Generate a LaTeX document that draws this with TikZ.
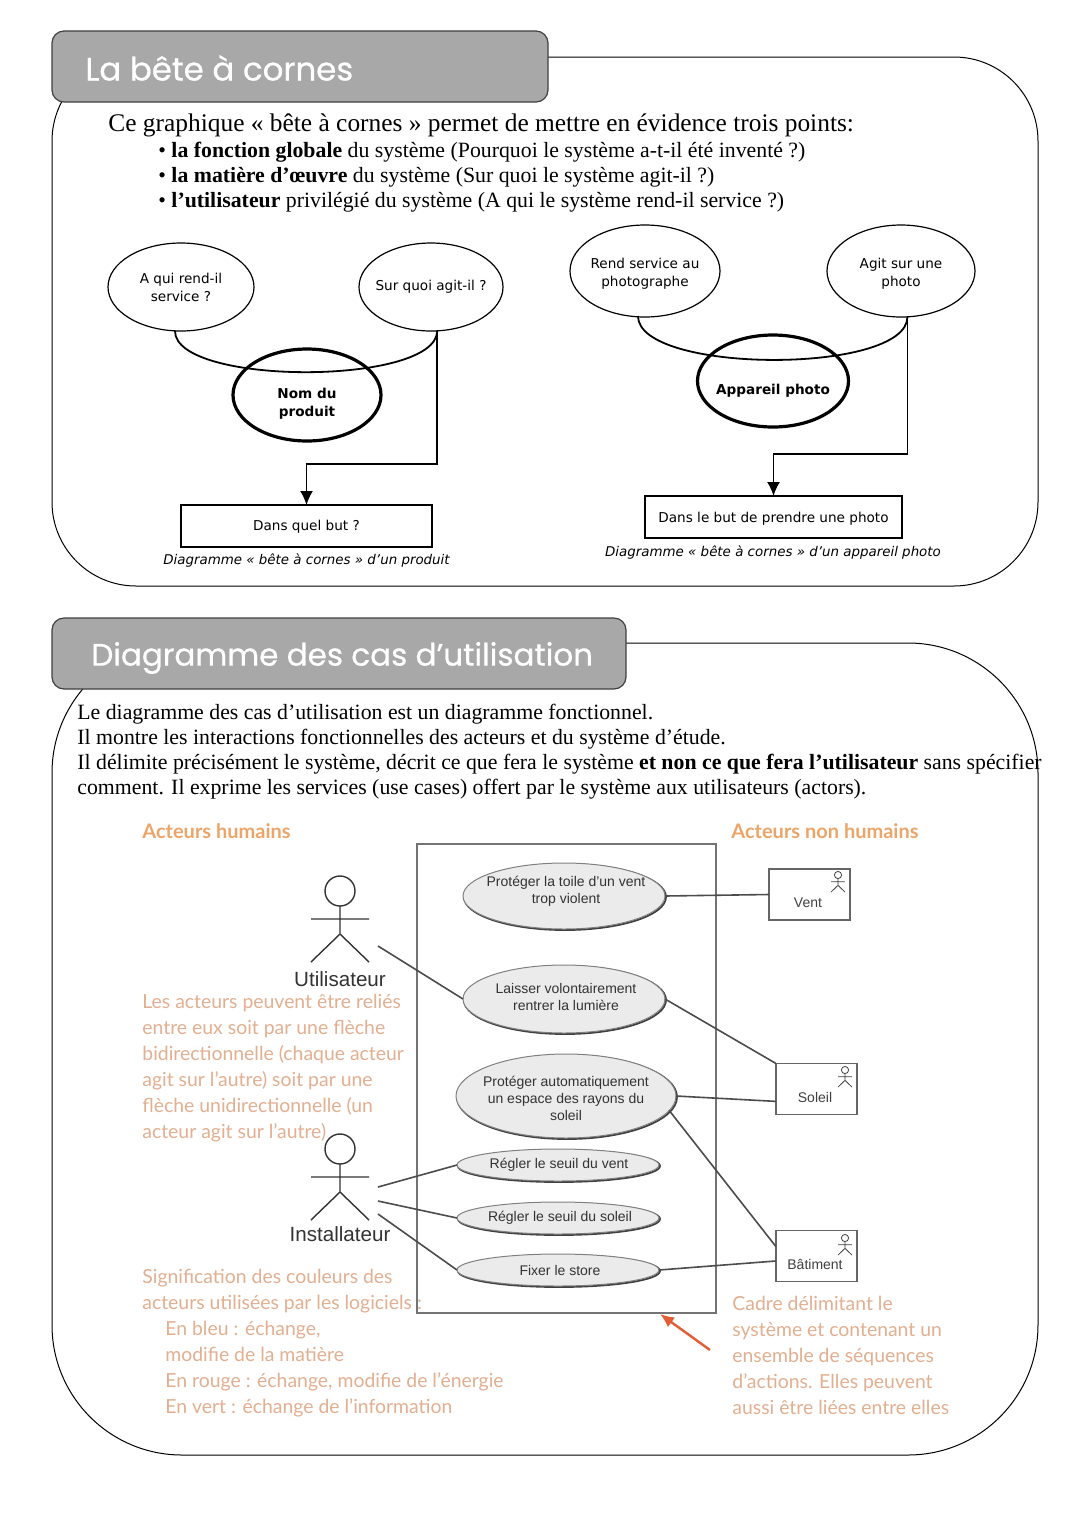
\documentclass[tikz,border=0pt]{standalone}
\usepackage{fontspec}
\setmainfont{Liberation Serif}
\newfontfamily\schemafont{DejaVu Sans}
\newfontfamily\umlfont{Liberation Sans}
\newfontfamily\notefont{Lato}
\newfontfamily\titlefont[FakeBold=0.6]{Poppins}
\usetikzlibrary{shapes.geometric,arrows.meta}
\definecolor{titlegray}{RGB}{168,168,168}
\definecolor{notecolor}{RGB}{226,175,145}
\definecolor{headcolor}{RGB}{236,165,105}
\definecolor{arrowcolor}{RGB}{226,92,52}
\tikzset{
  frame/.style={draw,line width=0.5pt,rounded corners=42pt},
  titlebox/.style={draw=black!75,fill=titlegray,line width=0.6pt,rounded corners=6pt},
  titletext/.style={anchor=west,white,inner sep=0pt,font=\titlefont\fontsize{16.2}{20}\selectfont},
  bodytext/.style={anchor=north west,align=left,inner sep=0pt,font=\fontsize{12.7}{12.5}\selectfont},
  smalltext/.style={bodytext,font=\fontsize{10.9}{12.5}\selectfont},
  bubble/.style={draw,ellipse,inner sep=-10pt,outer sep=0pt,line width=0.6pt,align=center,font=\schemafont\fontsize{6.8}{9}\selectfont},
  thickbubble/.style={bubble,line width=1.6pt},
  boldname/.style={inner sep=0pt,align=center,font=\schemafont\bfseries\fontsize{6.8}{9}\selectfont},
  butbox/.style={draw,rectangle,inner sep=0pt,outer sep=0pt,line width=0.8pt},
  plainname/.style={inner sep=0pt,font=\schemafont\fontsize{6.8}{9}\selectfont},
  legend/.style={inner sep=0pt,font=\schemafont\itshape\fontsize{6.7}{9}\selectfont},
  link/.style={line width=0.9pt},
  usecase/.style={draw=black!50,fill=black!8,ellipse,outer sep=0pt,line width=0.5pt,
    preaction={draw=black!75,line width=0.9pt,transform canvas={xshift=0.5pt,yshift=-0.5pt}}},
  usecasename/.style={inner sep=0pt,align=center,text=black!80,font=\umlfont\fontsize{7}{8.5}\selectfont},
  actorbox/.style={draw=black!60,fill=white,rectangle,inner sep=0pt,outer sep=0pt,line width=0.6pt,minimum width=40.5pt,minimum height=25.5pt},
  actorname/.style={inner sep=0pt,text=black!75,font=\umlfont\fontsize{7}{8}\selectfont},
  umlname/.style={inner sep=0pt,text=black!80,font=\umlfont\fontsize{10.3}{13}\selectfont},
  umllink/.style={draw=black!70,line width=0.8pt},
  notetext/.style={anchor=north west,align=left,inner sep=0pt,text=notecolor,font=\notefont\fontsize{9.7}{13}\selectfont},
  headtext/.style={anchor=west,inner sep=0pt,text=headcolor,font=\notefont\bfseries\fontsize{10}{13}\selectfont},
  actor/.pic={
    \draw (0,0) circle[radius=15];
    \draw (0,15) -- (0,43) (-29,28) -- (29,28) (-29,71) -- (0,43) -- (29,71);
  }
}
\begin{document}
\begin{tikzpicture}[x=0.5pt,y=-0.5pt]
  \path[fill=white,use as bounding box] (0,0) rectangle (1080,1528);

  \draw[frame] (52,57) rectangle (1038,586);
  \draw[titlebox] (52,31) rectangle (548,102);
  \node[titletext] (titlecornes) at (85,68) {La bête à cornes};

  \node[bodytext] (introcornes) at (108,113) {Ce graphique « bête à cornes » permet de mettre en évidence trois points:};
  \node[smalltext] (listcornes) at (158,142) {%
    • \textbf{la fonction globale} du système (Pourquoi le système a-t-il été inventé ?)\\
    • \textbf{la matière d’œuvre} du système (Sur quoi le système agit-il ?)\\
    • \textbf{l’utilisateur} privilégié du système (A qui le système rend-il service ?)};

  \node[bubble,minimum width=73pt,minimum height=44pt] (aqui) at (181,287) {A qui rend-il\\service ?};
  \node[bubble,minimum width=72pt,minimum height=44pt] (surquoi) at (431,287) {Sur quoi agit-il ?};
  \node[thickbubble,minimum width=74pt,minimum height=46pt] (produit) at (307,395) {};
  \node[boldname] (produitname) at (307,403.5) {Nom du\\produit};
  \node[butbox,minimum width=125.5pt,minimum height=21pt] (butproduit) at (306.5,526) {};
  \node[plainname] (butproduitname) at (306.5,527) {Dans quel but ?};
  \node[legend] (legendproduit) at (306.5,561) {Diagramme « bête à cornes » d’un produit};
  \coordinate (coudeproduit) at (437,464);
  \draw[link] (aqui.south) ++(-6,0) .. controls +(0,55) and +(0,55) .. (surquoi.-82);
  \draw[link,-{Latex[length=7pt,width=6.5pt]}] (surquoi.-82) |- (coudeproduit) -| (butproduit.north);

  \node[bubble,minimum width=75pt,minimum height=46pt] (rend) at (645,271) {\rule{0pt}{7.5pt}Rend service au\\photographe};
  \node[bubble,minimum width=74pt,minimum height=46pt] (agit) at (901,271) {\rule{0pt}{7.5pt}Agit sur une\\photo};
  \node[thickbubble,minimum width=75.5pt,minimum height=46pt] (appareil) at (773,381) {};
  \node[boldname] (appareilname) at (773,391) {Appareil photo};
  \node[butbox,minimum width=128.5pt,minimum height=21pt] (butphoto) at (773.5,517) {};
  \node[plainname] (butphotoname) at (773.5,519) {Dans le but de prendre une photo};
  \node[legend] (legendphoto) at (773,553) {Diagramme « bête à cornes » d’un appareil photo};
  \coordinate (coudephoto) at (907,454);
  \draw[link] (rend.south) ++(-7,-1) .. controls +(0,58) and +(0,58) .. (agit.-82);
  \draw[link,-{Latex[length=7pt,width=6.5pt]}] (agit.-82) |- (coudephoto) -| (butphoto.north);

  \draw[frame,rounded corners=65pt] (52,643) rectangle (1038,1455);
  \draw[titlebox] (52,618) rectangle (626,689);
  \node[titletext,font=\titlefont\fontsize{15.5}{20}\selectfont] (titlecas) at (91,658) {Diagramme des cas d’utilisation};

  \node[smalltext] (introcas) at (77,704) {%
    Le diagramme des cas d’utilisation est un diagramme fonctionnel.\\
    Il montre les interactions fonctionnelles des acteurs et du système d’étude.\\
    Il délimite précisément le système, décrit ce que fera le système \textbf{et non ce que fera l’utilisateur} sans spécifier\\
    comment. Il exprime les services (use cases) offert par le système aux utilisateurs (actors).};

  \node[headtext] (humains) at (142,831) {Acteurs humains};
  \node[headtext] (nonhumains) at (731,831) {Acteurs non humains};

  \draw[draw=black!55,line width=0.9pt] (417,844) rectangle (716,1313);

  \node[usecase,minimum width=101pt,minimum height=33pt] (toile) at (564,896) {};
  \node[usecasename] (toilename) at (566,891) {Protéger la toile d’un vent\\trop violent};
  \node[usecase,minimum width=101pt,minimum height=34pt] (laisser) at (564,999) {};
  \node[usecasename] (laissername) at (566,997) {Laisser volontairement\\rentrer la lumière};
  \node[usecase,minimum width=110pt,minimum height=42pt] (espace) at (566,1096) {};
  \node[usecasename] (espacename) at (566,1098) {Protéger automatiquement\\un espace des rayons du\\soleil};
  \node[usecase,minimum width=101pt,minimum height=16pt] (seuilvent) at (558,1165) {};
  \node[usecasename] (seuilventname) at (559,1165) {Régler le seuil du vent};
  \node[usecase,minimum width=101pt,minimum height=16pt] (seuilsoleil) at (558,1218) {};
  \node[usecasename] (seuilsoleilname) at (560,1218) {Régler le seuil du soleil};
  \node[usecase,minimum width=101pt,minimum height=16pt] (store) at (558,1270) {};
  \node[usecasename] (storename) at (560,1270) {Fixer le store};

  \node[actorbox] (vent) at (809.5,894.5) {};
  \node[actorname] (ventname) at (808,903) {Vent};
  \node[actorbox] (soleil) at (816.5,1089) {};
  \node[actorname] (soleilname) at (815,1097) {Soleil};
  \node[actorbox] (batiment) at (816.5,1256) {};
  \node[actorname] (batimentname) at (815,1264) {Bâtiment};
  \pic[scale=0.24,draw=black!75] at (838,875) {actor};
  \pic[scale=0.24,draw=black!75] at (845,1070) {actor};
  \pic[scale=0.24,draw=black!75] at (845,1238) {actor};

  \pic[line width=0.7pt,draw=black!80] at (340,891) {actor};
  \node[umlname] (utilisateur) at (340,979) {Utilisateur};
  \pic[line width=0.7pt,draw=black!80] at (340,1149) {actor};
  \node[umlname] (installateur) at (340,1234) {Installateur};

  \coordinate (utilhand) at (378,946);
  \coordinate (instalhaut) at (378,1187);
  \coordinate (instalmilieu) at (378,1201);
  \coordinate (instalbas) at (378,1214);
  \draw[umllink] (utilhand) -- (laisser.west);
  \draw[umllink] (instalhaut) -- (seuilvent.west);
  \draw[umllink] (instalmilieu) -- (seuilsoleil.west);
  \draw[umllink] (instalbas) -- (store.west);
  \draw[umllink] (toile.east) -- (vent.west);
  \draw[umllink] (laisser.east) -- (soleil.north west);
  \draw[umllink] (espace.east) -- (soleil.197);
  \draw[umllink] (espace.-8) -- (batiment.167);
  \draw[umllink] (store.east) -- (batiment.187);

  \node[notetext] (notelien) at (142,994) {Les acteurs peuvent être reliés\\entre eux soit par une flèche\\bidirectionnelle (chaque acteur\\agit sur l’autre) soit par une\\flèche unidirectionnelle (un\\acteur agit sur l’autre)};
  \node[notetext] (notecouleurs) at (142,1269) {Signification des couleurs des\\acteurs utilisées par les logiciels :\\\hspace{11.5pt}En bleu : échange,\\\hspace{11.5pt}modifie de la matière\\\hspace{11.5pt}En rouge : échange, modifie de l’énergie\\\hspace{11.5pt}En vert : échange de l’information};
  \node[notetext] (notecadre) at (732,1296) {Cadre délimitant le\\système et contenant un\\ensemble de séquences\\d’actions. Elles peuvent\\aussi être liées entre elles};

  \coordinate (cadrestart) at (710,1350);
  \coordinate (cadreend) at (660,1314);
  \draw[arrowcolor,line width=1.2pt,-{Latex[length=7pt,width=6pt]}] (cadrestart) -- (cadreend);
\end{tikzpicture}
\end{document}
